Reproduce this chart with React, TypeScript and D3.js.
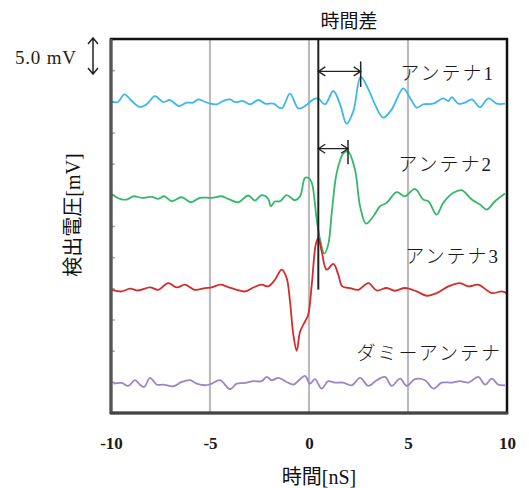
import React, { useEffect, useRef } from "react";
import * as d3 from "d3";

// chart values (time in nS, deviation in mV)
const timeTicks = [-10, -5, 0, 5, 10];
const gridTimes = [-5, 0, 5];
const voltTicks = [0, 5, 10, 15, 20, 25, 30, 35, 40, 45, 50, 55, 60];

const antenna1 = [
  [-9.96, -0.05], [-9.65, -0.11], [-9.33, 1.13], [-8.95, 0.05], [-8.54, -0.92], [-8.2, -0.48],
  [-7.78, 0.85], [-7.36, -0.11], [-7.02, 0.21], [-6.57, -0.76], [-6.18, -0.21], [-5.86, -0.21],
  [-5.59, 0.32], [-5.35, 0.05], [-5.0, -0.37], [-4.66, -0.48], [-4.33, 0.05], [-3.99, 0.32],
  [-3.74, -0.11], [-3.32, 0.05], [-2.98, -0.48], [-2.56, 0.21], [-2.22, -0.37], [-1.8, -0.37],
  [-1.38, -1.13], [-0.96, 1.24], [-0.54, -1.13], [-0.2, -0.76], [0.05, -0.11], [0.22, 0.32],
  [0.47, 0.43], [0.81, -0.48], [1.23, 1.66], [1.57, -0.48], [1.9, -3.59], [2.24, -1.56],
  [2.61, 3.91], [3.0, 1.93], [3.33, -0.48], [3.75, -2.62], [4.18, -1.29], [4.76, 2.09],
  [5.1, 0.59], [5.44, -1.01], [5.77, -0.48], [6.28, -0.37], [6.78, 0.48], [7.04, 0.05],
  [7.21, 0.69], [7.54, -0.37], [7.88, -0.21], [8.22, 0.32], [8.64, -0.92], [9.06, 0.48],
  [9.48, -0.37], [9.9, -0.37],
];

const antenna2 = [
  [-9.96, 0.05], [-9.55, -0.64], [-9.21, -0.76], [-8.87, -0.23], [-8.45, -0.48], [-7.94, -0.32],
  [-7.61, -0.64], [-7.31, -0.23], [-6.93, -1.03], [-6.43, -0.39], [-5.96, -1.19], [-5.51, -0.48],
  [-4.91, -0.48], [-4.41, -0.23], [-4.08, -0.64], [-3.57, -1.19], [-3.07, -0.11], [-2.73, -0.92],
  [-2.39, -0.06], [-2.06, -0.64], [-1.93, -1.83], [-1.72, -1.08], [-1.46, -1.03], [-1.13, -0.06],
  [-0.71, -0.87], [-0.45, -0.23], [-0.2, 2.73], [-0.03, 2.73], [0.14, 1.93], [0.39, -3.97],
  [0.56, -7.19], [0.77, -9.44], [0.97, -7.99], [1.15, -2.89], [1.4, 3.54], [1.73, 6.64],
  [1.97, 6.96], [2.32, 4.07], [2.58, -1.83], [2.88, -4.61], [3.25, -3.44], [3.59, -1.83],
  [3.92, -1.29], [4.43, 0.42], [4.85, -0.23], [5.35, 0.96], [5.77, -0.76], [6.03, -1.03],
  [6.45, -3.17], [6.78, -1.29], [7.29, 0.32], [7.71, 0.74], [8.22, -0.76], [8.64, -1.56],
  [8.98, -2.36], [9.39, -1.03], [9.9, 0.21],
];

const antenna3 = [
  [-9.96, -0.23], [-9.46, -0.5], [-9.04, -0.06], [-8.62, -0.34], [-8.03, 0.14], [-7.61, -0.23],
  [-7.11, 0.85], [-6.68, 0.14], [-6.26, 0.58], [-5.76, -0.23], [-5.25, 0.05], [-4.91, 0.14],
  [-4.49, 0.58], [-4.08, 0.21], [-3.65, -0.23], [-3.23, -0.5], [-2.81, 0.14], [-2.39, 0.58],
  [-2.06, 0.31], [-1.72, 1.38], [-1.38, 2.99], [-1.13, 1.66], [-0.96, -2.11], [-0.79, -7.46],
  [-0.62, -10.03], [-0.45, -6.93], [-0.2, -5.32], [-0.04, -4.24], [0.14, 0.58], [0.34, 7.01],
  [0.47, 8.09], [0.64, 5.93], [0.89, 2.99], [1.23, 3.91], [1.48, 2.19], [1.68, 0.31],
  [2.07, 0.05], [2.49, -0.23], [3.0, 0.85], [3.42, -0.34], [3.92, 0.05], [4.34, -0.39],
  [4.85, 0.05], [5.44, -0.5], [5.94, -1.19], [6.45, -0.76], [7.04, 0.31], [7.63, 0.85],
  [8.05, 0.31], [8.55, 0.58], [9.23, -0.76], [9.73, -0.5], [9.98, -0.76],
];

const dummy = [
  [-9.88, -0.29], [-9.46, -0.18], [-9.13, -0.66], [-8.79, 0.26], [-8.54, -0.45], [-8.32, -0.82],
  [-8.03, 0.63], [-7.69, -0.45], [-7.36, -0.45], [-6.85, -0.71], [-6.43, -0.02], [-6.01, 0.26],
  [-5.67, -0.29], [-5.25, -0.55], [-4.91, -0.29], [-4.49, 0.26], [-3.99, -1.19], [-3.65, -0.29],
  [-3.23, -0.18], [-2.81, 0.1], [-2.39, 0.1], [-2.14, 0.79], [-1.88, 0.26], [-1.55, 0.63],
  [-1.13, -0.02], [-0.79, -0.45], [-0.45, 0.42], [-0.2, 0.95], [0.05, -0.29], [0.3, 0.42],
  [0.64, -1.09], [0.97, 0.1], [1.31, -0.13], [1.73, -0.13], [2.16, -0.55], [2.58, 0.63],
  [3.0, -0.66], [3.42, 0.26], [3.84, 0.79], [4.18, -0.66], [4.6, 0.51], [4.93, -0.66],
  [5.35, 0.42], [5.86, 0.26], [6.28, -1.09], [6.7, -0.13], [7.21, -0.13], [7.63, 0.1],
  [8.05, -0.13], [8.55, 0.79], [8.89, -0.45], [9.23, 0.51], [9.56, -0.45], [9.9, -0.55],
];

const traceData = [antenna1, antenna2, antenna3, dummy];
const traceNames = ["アンテナ1", "アンテナ2", "アンテナ3", "ダミーアンテナ"];
const traceOffsets = [50, 35, 20, 5]; // mV
const traceColors = ["#3bb7ee", "#35b86a", "#d42b2b", "#9b85c2"];

const W = 529, H = 488;
const margin = { top: 39, right: 22, bottom: 75, left: 111 };
const innerW = W - margin.left - margin.right;
const innerH = H - margin.top - margin.bottom;

const jpSerif = "'Liberation Serif', 'Noto Sans CJK JP', serif";
const jpSans = "'Noto Sans CJK JP', 'Noto Sans', sans-serif";

function chevrons(x1, x2, y) {
  // double-headed horizontal arrow with open heads
  const a = 7, b = 4.5;
  return `M${x1},${y}H${x2}M${x1 + a},${y - b}L${x1},${y}L${x1 + a},${y + b}` +
    `M${x2 - a},${y - b}L${x2},${y}L${x2 - a},${y + b}`;
}

export default function App() {
  const xAxisRef = useRef(null);
  const yAxisRef = useRef(null);

  const x = d3.scaleLinear().domain([-10, 10]).range([0, innerW]);
  const y = d3.scaleLinear().domain([0, 60]).range([innerH, 0]);

  const line = d3
    .line()
    .x(d => x(d[0]))
    .y(d => y(d[1]))
    .curve(d3.curveCatmullRom.alpha(0.5));

  useEffect(() => {
    const gx = d3.select(xAxisRef.current);
    gx.call(d3.axisBottom(x).tickValues(timeTicks).tickSize(0).tickPadding(24).tickFormat(d => String(d)));
    gx.select(".domain").remove();
    gx.selectAll("text")
      .attr("font-family", "'Liberation Serif', serif")
      .attr("font-weight", "bold")
      .attr("font-size", 17)
      .attr("fill", "#1a1a1a");

    const gy = d3.select(yAxisRef.current);
    gy.call(d3.axisLeft(y).tickValues(voltTicks).tickSize(-4).tickFormat(() => ""));
    gy.select(".domain").remove();
    gy.selectAll("line").attr("stroke", "#aaa").attr("stroke-width", 1.5);
  });

  // peak times taken from the traces
  const peakT = tr => tr.reduce((m, d) => (d[1] > m[1] ? d : m))[0];
  const refX = x(peakT(antenna3));
  const x1 = x(peakT(antenna1));
  const x2 = x(peakT(antenna2));

  const labelPos = [
    [495, 80], [493, 171], [500, 263], [502, 360],
  ];

  return (
    <svg width={W} height={H} style={{ position: "absolute", left: 0, top: 0, background: "#fff" }}>
      <g transform={`translate(${margin.left},${margin.top})`}>
        {gridTimes.map(t => (
          <line key={t} x1={x(t)} x2={x(t)} y1={0} y2={innerH} stroke="#bcbcbc" strokeWidth={2.2} />
        ))}
        <g ref={yAxisRef} />

        {traceData.map((tr, i) => (
          <path
            key={i}
            d={line(tr.map(d => [d[0], d[1] + traceOffsets[i]]))}
            fill="none"
            stroke={traceColors[i]}
            strokeWidth={1.8}
          />
        ))}

        {/* reference line at antenna 3 peak and time-difference arrows */}
        <line x1={refX} x2={refX} y1={0} y2={y(19.8)} stroke="#222" strokeWidth={2} />
        <path d={chevrons(refX, x1, y(54.8))} fill="none" stroke="#222" strokeWidth={1.3} />
        <line x1={x1} x2={x1} y1={y(56.4)} y2={y(52.3)} stroke="#222" strokeWidth={1.5} />
        <path d={chevrons(refX, x2, y(42.4))} fill="none" stroke="#222" strokeWidth={1.3} />
        <line x1={x2} x2={x2} y1={y(43.8)} y2={y(39.9)} stroke="#222" strokeWidth={1.5} />

        {/* frame */}
        <rect x={0} y={0} width={innerW} height={innerH} fill="none" stroke="#111" strokeWidth={2.5} />
        <line x1={0} x2={0} y1={0} y2={innerH} stroke="#555" strokeWidth={3} />
        <line x1={0} x2={innerW} y1={innerH} y2={innerH} stroke="#444" strokeWidth={3} strokeLinecap="round" />

        <g ref={xAxisRef} transform={`translate(0,${innerH})`} />
      </g>

      {traceNames.map((n, i) => (
        <text key={n} x={labelPos[i][0]} y={labelPos[i][1]} textAnchor="end" fontFamily={jpSerif}
          fontSize={19} fontWeight={300} letterSpacing={2} fill="#1a1a1a">{n}</text>
      ))}

      <text x={349} y={28} textAnchor="middle" fontFamily={jpSans} fontSize={19} fill="#111">時間差</text>

      {/* 5.0 mV scale bar */}
      <text x={15} y={64} fontFamily="'Liberation Serif', serif" fontSize={19} letterSpacing={0.8}
        fill="#2a1f14">5.0 mV</text>
      <path d="M93,38V74M88,44L93,38L98,44M88,68L93,74L98,68" fill="none" stroke="#222" strokeWidth={1.5} />

      <text transform="translate(73,215) rotate(-90)" textAnchor="middle" dominantBaseline="central"
        fontFamily={jpSerif} fontSize={20} fill="#111">検出電圧[mV]</text>
      <text x={319} y={484} textAnchor="middle" fontFamily={jpSerif} fontSize={20} fill="#111">時間[nS]</text>
    </svg>
  );
}
